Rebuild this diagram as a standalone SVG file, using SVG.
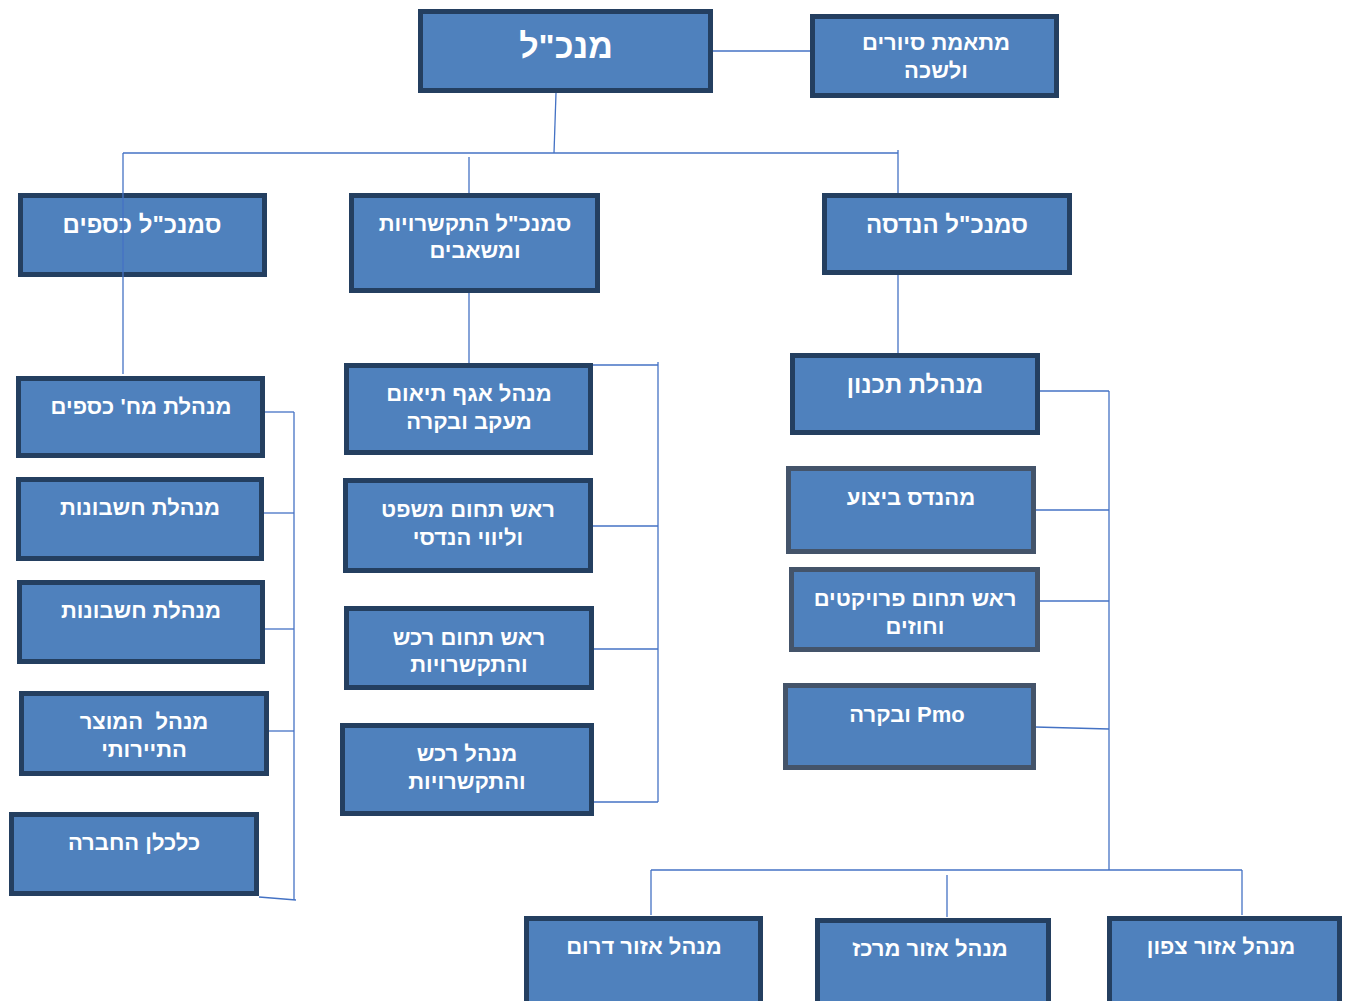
<svg xmlns="http://www.w3.org/2000/svg" width="1350" height="1001" viewBox="0 0 1350 1001">
<style>
.b{fill:#4F81BD;stroke:#243F60;stroke-width:5}
.g{fill:#4F81BD;stroke:#44546A;stroke-width:5}
.t{font-family:"Liberation Sans",Arial,sans-serif;font-weight:bold;font-size:22px;fill:#fff;text-anchor:middle;direction:rtl;white-space:pre}
.m{font-size:24px}
.big{font-size:34px}
.c{stroke:#4472C4;stroke-width:1.3;fill:none}
</style>
<rect width="1350" height="1001" fill="#fff"/>
<g id="connectors">
<line class="c" x1="713" y1="51" x2="810" y2="51"/>
<line class="c" x1="556" y1="93" x2="554" y2="153"/>
<line class="c" x1="123" y1="153" x2="898" y2="153"/>
<line class="c" x1="469" y1="157" x2="469" y2="193"/>
<line class="c" x1="898" y1="150" x2="898" y2="193"/>
<line class="c" x1="469" y1="293" x2="469" y2="363"/>
<line class="c" x1="898" y1="275" x2="898" y2="353"/>
<polyline class="c" points="593,365 658,365"/>
<line class="c" x1="658" y1="362" x2="658" y2="802"/>
<line class="c" x1="593" y1="526" x2="658" y2="526"/>
<line class="c" x1="594" y1="649" x2="658" y2="649"/>
<line class="c" x1="594" y1="802" x2="658" y2="802"/>
<line class="c" x1="265" y1="412" x2="294" y2="412"/>
<line class="c" x1="294" y1="412" x2="294" y2="900"/>
<line class="c" x1="264" y1="513" x2="294" y2="513"/>
<line class="c" x1="265" y1="629" x2="294" y2="629"/>
<line class="c" x1="268" y1="731" x2="294" y2="731"/>
<line class="c" x1="259" y1="897" x2="296" y2="900"/>
<line class="c" x1="1040" y1="391" x2="1109" y2="391"/>
<line class="c" x1="1109" y1="391" x2="1109" y2="870"/>
<line class="c" x1="1035" y1="510" x2="1109" y2="510"/>
<line class="c" x1="1040" y1="601" x2="1109" y2="601"/>
<line class="c" x1="1035" y1="727" x2="1109" y2="729"/>
<line class="c" x1="651" y1="870" x2="1242" y2="870"/>
<line class="c" x1="651" y1="870" x2="651" y2="915"/>
<line class="c" x1="947" y1="875" x2="947" y2="917"/>
<line class="c" x1="1242" y1="870" x2="1242" y2="915"/>
</g>
<g id="ceo"><rect class="b" x="420.5" y="11.5" width="290" height="79"/><text class="t big" x="566" y="58">מנכ"ל</text></g>
<g id="coordinator"><rect class="b" x="812.5" y="16.5" width="244" height="79"/><text class="t" x="936" y="50">מתאמת סיורים</text><text class="t" x="936" y="78">ולשכה</text></g>
<g id="vp-finance"><rect class="b" x="20.5" y="195.5" width="244" height="79"/><text class="t m" x="142" y="233">סמנכ"ל כספים</text></g>
<line class="c" x1="123" y1="153" x2="123" y2="374"/>
<g id="vp-procurement"><rect class="b" x="351.5" y="195.5" width="246" height="95"/><text class="t" x="475" y="231">סמנכ"ל התקשרויות</text><text class="t" x="475" y="258">ומשאבים</text></g>
<g id="vp-engineering"><rect class="b" x="824.5" y="195.5" width="245" height="77"/><text class="t m" x="947" y="233">סמנכ"ל הנדסה</text></g>
<g id="fin-dept"><rect class="b" x="18.5" y="378.5" width="244" height="77"/><text class="t" x="141" y="414">מנהלת מח' כספים</text></g>
<g id="accountant1"><rect class="b" x="18.5" y="479.5" width="243" height="79"/><text class="t" x="140" y="515">מנהלת חשבונות</text></g>
<g id="accountant2"><rect class="b" x="19.5" y="582.5" width="243" height="79"/><text class="t" x="141" y="618">מנהלת חשבונות</text></g>
<g id="tourism"><rect class="b" x="21.5" y="693.5" width="245" height="80"/><text class="t" x="144" y="729">מנהל  המוצר</text><text class="t" x="144" y="757">התיירותי</text></g>
<g id="economist"><rect class="b" x="11.5" y="814.5" width="245" height="79"/><text class="t" x="134" y="850">כלכלן החברה</text></g>
<g id="coordination"><rect class="b" x="346.5" y="365.5" width="244" height="87"/><text class="t" x="469" y="401">מנהל אגף תיאום</text><text class="t" x="469" y="429">מעקב ובקרה</text></g>
<g id="legal"><rect class="b" x="345.5" y="480.5" width="245" height="90"/><text class="t" x="468" y="517">ראש תחום משפט</text><text class="t" x="468" y="545">וליווי הנדסי</text></g>
<g id="procurement-head"><rect class="b" x="346.5" y="608.5" width="245" height="79"/><text class="t" x="469" y="645">ראש תחום רכש</text><text class="t" x="469" y="672">והתקשרויות</text></g>
<g id="procurement-mgr"><rect class="b" x="342.5" y="725.5" width="249" height="88"/><text class="t" x="467" y="761">מנהל רכש</text><text class="t" x="467" y="789">והתקשרויות</text></g>
<g id="planning"><rect class="b" x="792.5" y="355.5" width="245" height="77"/><text class="t m" x="915" y="393">מנהלת תכנון</text></g>
<g id="exec-eng"><rect class="g" x="788.5" y="468.5" width="245" height="83"/><text class="t" x="911" y="505">מהנדס ביצוע</text></g>
<g id="projects"><rect class="g" x="791.5" y="569.5" width="246" height="80"/><text class="t" x="915" y="606">ראש תחום פרויקטים</text><text class="t" x="915" y="634">וחוזים</text></g>
<g id="pmo"><rect class="g" x="785.5" y="685.5" width="248" height="82"/><text class="t" x="907" y="722">Pmo ובקרה</text></g>
<g id="south"><rect class="b" x="526.5" y="918.5" width="234" height="85"/><text class="t" x="644" y="954">מנהל אזור דרום</text></g>
<g id="center"><rect class="b" x="817.5" y="920.5" width="231" height="85"/><text class="t" x="930" y="956">מנהל אזור מרכז</text></g>
<g id="north"><rect class="b" x="1109.5" y="918.5" width="230" height="85"/><text class="t" x="1221" y="954">מנהל אזור צפון</text></g>
</svg>
